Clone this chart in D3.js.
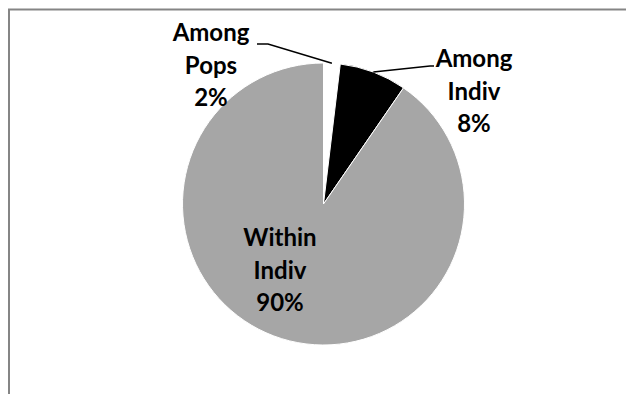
<!DOCTYPE html>
<html>
<head>
<meta charset="utf-8">
<script src="https://cdn.jsdelivr.net/npm/d3@7"></script>
<style>
  body { margin: 0; background: #fff; }
  text { font-family: Lato, "Liberation Sans", sans-serif; font-weight: bold; }
</style>
</head>
<body>
<div id="chart"></div>
<script>
// slice data (clockwise from 12 o'clock)
var labels = ["Among Pops", "Among Indiv", "Within Indiv"];
var values = [1.9, 7.7, 90.4];
var pctText = ["2%", "8%", "90%"];

var colors = ["#ffffff", "#000000", "#a6a6a6"];

var width = 626, height = 394;
var cx = 323.5, cy = 204, r = 141;

// where the data labels sit (text block centre x, first baseline y)
var labelAt = [
  { x: 211, y: 41 },
  { x: 474, y: 67 },
  { x: 280, y: 246 }
];
var lineGap = 32.5;
// leader lines: elbow and end points
var leaders = [
  [[268, 44], [257, 44]],
  [[430, 66], [434, 66]],
  null
];

var svg = d3.select("#chart").append("svg")
    .attr("width", width)
    .attr("height", height);

// chart area frame (only top and left show)
svg.append("path")
    .attr("d", "M9,394V9.5H626")
    .attr("fill", "none")
    .attr("stroke", "#858585")
    .attr("stroke-width", 2);

var color = d3.scaleOrdinal().domain(labels).range(colors);

var pie = d3.pie().sort(null).value(function(d) { return d; });
var arcs = pie(values);

var arc = d3.arc().innerRadius(0).outerRadius(r);
var edge = d3.arc().innerRadius(r).outerRadius(r);

var g = svg.append("g")
    .attr("transform", "translate(" + cx + "," + cy + ")");

g.selectAll("path.slice")
  .data(arcs)
  .enter().append("path")
    .attr("class", "slice")
    .attr("d", arc)
    .attr("fill", function(d, i) { return color(labels[i]); })
    .attr("stroke", "#fff")
    .attr("stroke-width", 1);

// leader lines from the arc midpoint out to the label
arcs.forEach(function(d, i) {
  if (!leaders[i]) return;
  var p = edge.centroid(d);
  var pts = [[p[0] + cx, p[1] + cy]].concat(leaders[i]);
  svg.append("path")
      .attr("d", d3.line()(pts))
      .attr("fill", "none")
      .attr("stroke", "#000")
      .attr("stroke-width", 1.5);
});

// labels: name split into two lines, then the percentage
labels.forEach(function(name, i) {
  var lines = name.split(" ").concat([pctText[i]]);
  var t = svg.append("text")
      .attr("text-anchor", "middle")
      .attr("font-size", 24)
      .attr("fill", "#000");
  lines.forEach(function(s, j) {
    t.append("tspan")
        .attr("x", labelAt[i].x)
        .attr("y", labelAt[i].y + j * lineGap)
        .text(s);
  });
});
</script>
</body>
</html>
